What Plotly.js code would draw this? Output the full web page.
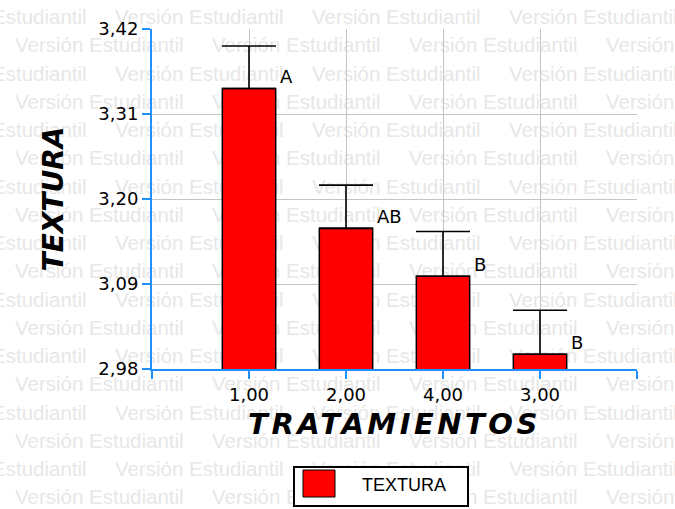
<!DOCTYPE html>
<html><head><meta charset="utf-8">
<script src="https://cdn.plot.ly/plotly-3.0.1.min.js"></script>
<style>html,body{margin:0;padding:0;background:#fff;}</style>
</head><body>
<div id="chart" style="width:675px;height:509px;"></div>
<script>
// ---- data ----
const categories = ['1,00', '2,00', '4,00', '3,00'];
const means = [3.343, 3.162, 3.100, 2.999];
const errors = [0.055, 0.056, 0.058, 0.057];
const groupLetters = ['A', 'AB', 'B', 'B'];
const yTickValues = [2.98, 3.09, 3.20, 3.31, 3.42];
const yTickLabels = ['2,98', '3,09', '3,20', '3,31', '3,42'];
const seriesName = 'TEXTURA';
const xTitle = 'TRATAMIENTOS';
const yTitle = 'TEXTURA';
const watermarkText = 'Versión Estudiantil';

// ---- styling / geometry ----
const W = 675, H = 509;
const plotLeft = 152, plotRight = 637, plotTop = 29, plotBottom = 369;
const blue = '#1e90ff';
const grid = '#c4c4c4';

// watermark rows (decoration)
const wmX = [], wmY = [], wmT = [];
const rowGap = 28.25, period = 197;
for (let k = 0; k < 18; k++) {
  const y = 19 + rowGap * k;
  const x0 = (k % 2 === 0) ? -82 : 15;
  for (let x = x0; x < W; x += period) {
    wmX.push(x); wmY.push(y); wmT.push(watermarkText);
  }
}

const watermark = {
  type: 'scatter', mode: 'text', x: wmX, y: wmY, text: wmT,
  textposition: 'middle right', marker: {size: 0},
  textfont: {family: 'Liberation Sans, Arial, sans-serif', size: 20.5, color: '#e7e7e7'},
  xaxis: 'x', yaxis: 'y', hoverinfo: 'skip', showlegend: false
};

const bars = {
  type: 'bar', name: seriesName, x: categories, y: means,
  xaxis: 'x2', yaxis: 'y2', width: 0.55,
  marker: {color: '#ff0000', line: {color: '#000000', width: 1.5}},
  error_y: {type: 'data', array: errors, arrayminus: errors.map(() => 0), symmetric: false,
            color: '#000000', thickness: 1.6, width: 27},
  hoverinfo: 'skip', showlegend: false
};

const fx = p => p / W, fy = p => 1 - p / H;

const annotations = groupLetters.map((t, i) => ({
  xref: 'x2', yref: 'y2', x: categories[i], y: means[i], text: t, showarrow: false,
  xanchor: 'left', yanchor: 'middle', xshift: 29, yshift: 12,
  font: {family: 'DejaVu Sans, sans-serif', size: 18, color: '#000'}
}));
annotations.push({
  xref: 'paper', yref: 'paper', x: fx(360), y: fy(485), text: seriesName, showarrow: false,
  xanchor: 'left', yanchor: 'middle',
  font: {family: 'Liberation Sans, Arial, sans-serif', size: 18, color: '#000'}
});

const shapes = [
  {type: 'rect', xref: 'paper', yref: 'paper', x0: fx(294), x1: fx(468), y0: fy(467), y1: fy(506),
   line: {color: '#000', width: 2}, fillcolor: '#fff'},
  {type: 'rect', xref: 'paper', yref: 'paper', x0: fx(303), x1: fx(335), y0: fy(470), y1: fy(497),
   line: {color: '#000', width: 1}, fillcolor: '#ff0000'}
];

const layout = {
  width: W, height: H, margin: {l: 0, r: 0, t: 0, b: 0},
  paper_bgcolor: '#ffffff', plot_bgcolor: 'rgba(0,0,0,0)',
  showlegend: false,
  xaxis: {domain: [0, 1], range: [0, W], visible: false, fixedrange: true},
  yaxis: {domain: [0, 1], range: [H, 0], visible: false, fixedrange: true},
  xaxis2: {
    domain: [plotLeft / W, plotRight / W], anchor: 'y2', type: 'category',
    range: [-1, 4], tickmode: 'array', tickvals: [-1, 0, 1, 2, 3, 4],
    ticktext: [''].concat(categories, ['']),
    showgrid: true, gridcolor: grid, gridwidth: 1, zeroline: false,
    showline: true, linecolor: blue, linewidth: 2,
    ticks: 'outside', ticklen: 8, tickwidth: 2, tickcolor: blue,
    tickfont: {family: 'DejaVu Sans, sans-serif', size: 18, color: '#000'},
    title: {text: xTitle, standoff: 10,
            font: {family: 'DejaVu Sans, sans-serif', size: 29, color: '#000', weight: 'bold', style: 'italic'}}
  },
  yaxis2: {
    domain: [1 - plotBottom / H, 1 - plotTop / H], anchor: 'x2',
    range: [2.98, 3.42], tickmode: 'array', tickvals: yTickValues, ticktext: yTickLabels,
    showgrid: true, gridcolor: grid, gridwidth: 1, zeroline: false,
    showline: true, linecolor: blue, linewidth: 2,
    ticks: 'outside', ticklen: 8, tickwidth: 2, tickcolor: blue,
    tickfont: {family: 'DejaVu Sans, sans-serif', size: 18, color: '#000'},
    title: {text: yTitle, standoff: 27,
            font: {family: 'DejaVu Sans, sans-serif', size: 28, color: '#000', weight: 'bold', style: 'italic'}}
  },
  shapes: shapes,
  annotations: annotations
};

Plotly.newPlot('chart', [watermark, bars], layout, {displayModeBar: false, staticPlot: true}).then(gd => {
  // widen the x-axis title's letter spacing to match the reference's wide lettering
  const t = gd.querySelector('.g-x2title text');
  if (t) t.setAttribute('letter-spacing', '3.5px');
});
</script>
</body></html>
